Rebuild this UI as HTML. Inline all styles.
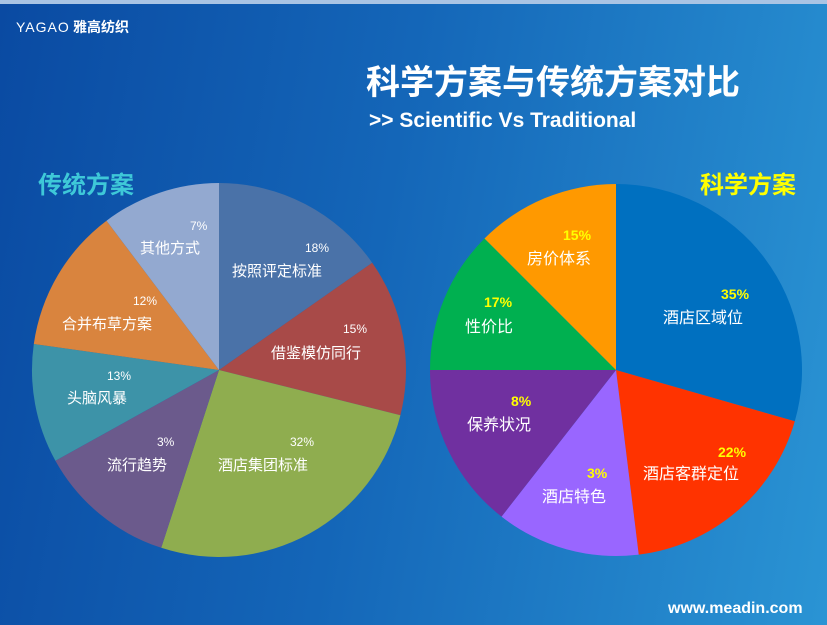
<!DOCTYPE html>
<html><head><meta charset="utf-8"><style>
body{margin:0;width:827px;height:625px;overflow:hidden;}
#bg{position:absolute;left:0;top:0;width:827px;height:625px;background:linear-gradient(100deg,#0a4aa2 0%,#1466b8 45%,#2a94d4 100%);}
#bar{position:absolute;left:0;top:0;width:827px;height:4px;background:#a9c4e4;}
svg{position:absolute;left:0;top:0;}
text{font-family:"Liberation Sans","Noto Sans CJK SC",sans-serif;}
</style></head><body>
<div id="bg"></div><div id="bar"></div>
<svg id="s" width="827" height="625" xmlns="http://www.w3.org/2000/svg">
<text x="16" y="32" fill="#fff" font-size="14" font-family="Liberation Mono,monospace" letter-spacing="1">YAGAO</text>
<text x="73" y="32" fill="#fff" font-size="14" font-weight="bold">雅高纺织</text>
<text x="366" y="94" fill="#fff" font-size="34" font-weight="bold" font-family="Noto Serif CJK SC,serif">科学方案与传统方案对比</text>
<text x="369" y="127" fill="#fff" font-size="21" font-weight="bold">&gt;&gt; Scientific Vs Traditional</text>
<text x="38" y="193" fill="#3ec8d8" font-size="24" font-weight="bold" font-family="Noto Serif CJK SC,serif">传统方案</text>
<text x="700" y="193" fill="#ffff00" font-size="24" font-weight="bold" font-family="Noto Serif CJK SC,serif">科学方案</text>
<g id="L"></g><g id="R"></g>
<text x="668" y="613" fill="#fff" font-size="16" font-weight="bold">www.meadin.com</text>
</svg>
<script>
function pie(g,cx,cy,r,sl){var a0=0,h='';sl.forEach(function(s){var a1=s[0];
var p=function(a){a=a*Math.PI/180;return [cx+r*Math.sin(a),cy-r*Math.cos(a)];};
var A=p(a0),B=p(a1);h+='<path d="M'+cx+','+cy+'L'+A[0].toFixed(1)+','+A[1].toFixed(1)+'A'+r+','+r+' 0 '+((a1-a0)>180?1:0)+' 1 '+B[0].toFixed(1)+','+B[1].toFixed(1)+'Z" fill="'+s[1]+'"/>';a0=a1;});
document.getElementById(g).innerHTML=h;}
pie('L',219,370,187,[[55,'#4a72a8'],[104,'#a84a48'],[198,'#8fad4f'],[241,'#6b5a8c'],[278,'#3d93a8'],[323,'#d9843e'],[360,'#93a9d0']]);
pie('R',616,370,186,[[106,'#0070c0'],[173,'#ff3300'],[218,'#9966ff'],[270,'#7030a0'],[315,'#00b050'],[360,'#ff9900']]);
var t=[[305,252,'18%','#fff',12],[232,276,'按照评定标准','#fff',15],[343,333,'15%','#fff',12],[271,358,'借鉴模仿同行','#fff',15],[290,446,'32%','#fff',12],[218,470,'酒店集团标准','#fff',15],[157,446,'3%','#fff',12],[107,470,'流行趋势','#fff',15],[107,380,'13%','#fff',12],[67,403,'头脑风暴','#fff',15],[133,305,'12%','#fff',12],[62,329,'合并布草方案','#fff',15],[190,230,'7%','#fff',12],[140,253,'其他方式','#fff',15],
[721,299,'35%','#ffff00',14],[663,323,'酒店区域位','#fff',16],[718,457,'22%','#ffff00',14],[643,479,'酒店客群定位','#fff',16],[587,478,'3%','#ffff00',14],[542,502,'酒店特色','#fff',16],[511,406,'8%','#ffff00',14],[467,430,'保养状况','#fff',16],[484,307,'17%','#ffff00',14],[465,332,'性价比','#fff',16],[563,240,'15%','#ffff00',14],[527,264,'房价体系','#fff',16]];
var h='';t.forEach(function(e){h+='<text x="'+e[0]+'" y="'+e[1]+'" fill="'+e[3]+'" font-size="'+e[4]+'"'+(e[3]=='#ffff00'?' font-weight="bold"':'')+'>'+e[2]+'</text>';});
document.getElementById('s').insertAdjacentHTML('beforeend',h);
</script>
</body></html>
